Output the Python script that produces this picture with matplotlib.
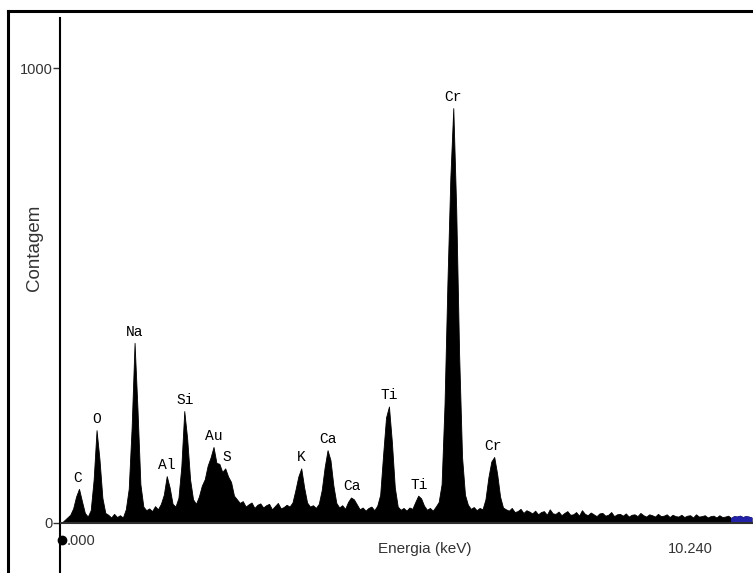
import numpy as np
import matplotlib.pyplot as plt
from matplotlib.lines import Line2D

# EDS spectrum, 0.04 keV per channel
channel_width = 0.04
counts = [
    0, 0, 6, 12, 18, 32, 58, 75, 48, 22,                # 0.00 - 0.36
    14, 28, 95, 204, 140, 55, 22, 18, 12, 20,           # 0.40 - 0.76
    13, 17, 12, 30, 75, 210, 396, 250, 85, 36,          # 0.80 - 1.16
    28, 32, 26, 37, 30, 42, 62, 103, 78, 42,            # 1.20 - 1.56
    36, 55, 125, 246, 185, 95, 52, 42, 58, 82,          # 1.60 - 1.96
    96, 126, 144, 167, 132, 130, 112, 120, 102, 90,     # 2.00 - 2.36
    60, 52, 44, 48, 36, 41, 45, 33, 40, 43,             # 2.40 - 2.76
    34, 39, 42, 30, 37, 44, 32, 35, 40, 36,             # 2.80 - 3.16
    45, 72, 102, 120, 78, 45, 36, 39, 33, 42,           # 3.20 - 3.56
    72, 122, 160, 138, 82, 44, 34, 39, 31, 46,          # 3.60 - 3.96
    56, 52, 41, 30, 34, 27, 33, 36, 28, 38,             # 4.00 - 4.36
    62, 150, 232, 256, 178, 78, 36, 29, 33, 27,         # 4.40 - 4.76
    34, 31, 46, 60, 54, 38, 29, 33, 27, 36,             # 4.80 - 5.16
    46, 85, 260, 530, 760, 912, 690, 370, 145, 62,      # 5.20 - 5.56
    40, 31, 35, 28, 33, 30, 52, 100, 135, 145,          # 5.60 - 5.96
    108, 58, 34,                                        # 6.00 - 6.08
    30, 27, 33, 24, 26, 31, 22, 28, 25, 21,             # 6.12 - 6.48
    27, 19, 24, 26, 18, 30, 21, 20, 25, 17,             # 6.52 - 6.88
    22, 26, 18, 19, 24, 16, 28, 20, 17, 23,             # 6.92 - 7.28
    19, 15, 21, 22, 16, 18, 24, 15, 19, 20,             # 7.32 - 7.68
    16, 21, 14, 18, 19, 15, 22, 17, 14, 19,             # 7.72 - 8.08
    17, 14, 20, 15, 16, 19, 13, 18, 15, 14,             # 8.12 - 8.48
    18, 13, 16, 17, 12, 19, 14, 15, 17, 12,             # 8.52 - 8.88
    15, 16, 12, 17, 13, 14, 16, 11, 15, 14,             # 8.92 - 9.28
    16, 13, 15, 14, 12,                                 # 9.32 - 9.48
]
roi_start = 9.22  # highlighted region at the right end

# peak identifications
peak_labels = ["C", "O", "Na", "Al", "Si", "Au", "S", "K",
               "Ca", "Ca", "Ti", "Ti", "Cr", "Cr"]
peak_energy = [0.26, 0.52, 1.04, 1.48, 1.73, 2.12, 2.30, 3.32,
               3.68, 4.02, 4.52, 4.93, 5.40, 5.95]

energy = np.arange(len(counts)) * channel_width
counts = np.array(counts, dtype=float)

W, H = 753, 573
fig = plt.figure(figsize=(W / 100, H / 100), dpi=100)
ax = fig.add_axes([60 / W, 0, 1 - 60 / W, 1 - 18 / H])

ax.fill_between(energy, counts, 0, color="black", lw=0.6, edgecolor="black")
roi = energy >= roi_start - 0.02
ax.fill_between(energy[roi], counts[roi], 0, color="#2222a8", lw=0.6,
                edgecolor="#2222a8")
ax.axhline(0, color="#303030", lw=1.5, zorder=3)

ax.set_xlim(0.02, 9.50)
ax.set_ylim(-110, 1110)

for s in ["top", "right", "bottom"]:
    ax.spines[s].set_visible(False)
ax.spines["left"].set_linewidth(1.5)
ax.set_xticks([])
ax.set_yticks([0, 1000])
ax.set_yticklabels(["0", "1000"], fontsize=10.5, color="#333333",
                   family="Liberation Sans")
ax.tick_params(axis="y", length=5, width=1.0, pad=0.5, color="#333333")

for name, e in zip(peak_labels, peak_energy):
    near = np.abs(energy - e) <= 0.05
    top = counts[near].max()
    ax.annotate(name, (e, top), xytext=(0, 8), textcoords="offset points",
                ha="center", va="center", fontsize=10.5,
                family="Liberation Mono", color="black")

# energy scale annotations
ax.plot(0.05, -37, "o", ms=6, color="black", clip_on=False)
ax.text(0.11, -40, ".000", fontsize=10.5, color="#333333",
        family="Liberation Sans", va="center", ha="left")
ax.text(8.64, -58, "10.240", fontsize=10.5, color="#333333",
        family="Liberation Sans", va="center", ha="center")
ax.text(5.01, -58, "Energia (keV)", fontsize=11, color="#333333",
        family="Liberation Sans", va="center", ha="center")

fig.text(34 / W, 1 - 248 / H, "Contagem", rotation=90, fontsize=13.5,
         color="#333333", family="Liberation Sans", ha="center", va="center")

# frame around the plot
fig.add_artist(Line2D([8 / W, 8 / W], [0, 1 - 10.5 / H], color="black",
                      lw=2.2, transform=fig.transFigure))
fig.add_artist(Line2D([8 / W, 1], [1 - 10.5 / H, 1 - 10.5 / H], color="black",
                      lw=2.2, transform=fig.transFigure))

fig.savefig("out.png", dpi=100, facecolor="white")
